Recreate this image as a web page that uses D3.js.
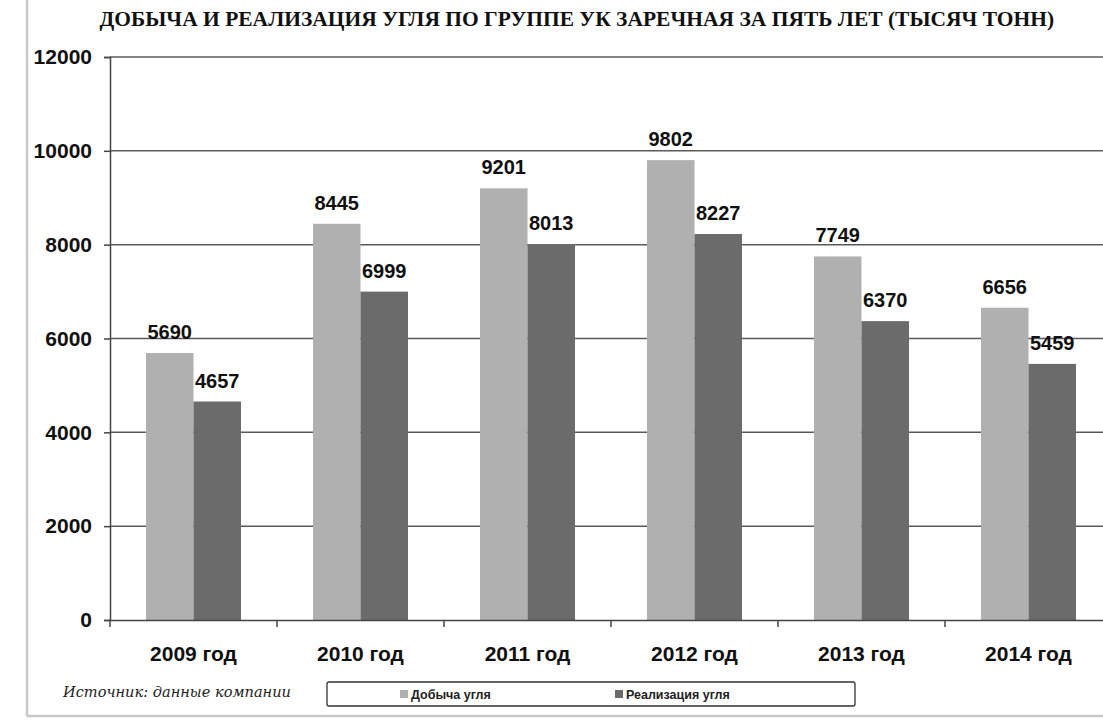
<!DOCTYPE html>
<html>
<head>
<meta charset="utf-8">
<script src="https://cdn.jsdelivr.net/npm/d3@7"></script>
<style>
  body { margin: 0; background: #fff; }
  svg { display: block; }
</style>
</head>
<body>
<div id="chart"></div>
<script>
const years = ["2009 год", "2010 год", "2011 год", "2012 год", "2013 год", "2014 год"];
const mining = [5690, 8445, 9201, 9802, 7749, 6656];
const sales = [4657, 6999, 8013, 8227, 6370, 5459];
const seriesNames = ["Добыча угля", "Реализация угля"];
const seriesColors = ["#b0b0b0", "#6b6b6b"];
const yTicks = [0, 2000, 4000, 6000, 8000, 10000, 12000];

const width = 1103, height = 724;
const margin = {left: 110, top: 57, bottom: 104};
const bandW = 167;
const sans = "Liberation Sans, Arial, sans-serif";

const svg = d3.select("#chart").append("svg")
    .attr("width", width)
    .attr("height", height);

// page frame
svg.append("line").attr("x1", 27).attr("x2", 27).attr("y1", 0).attr("y2", 716)
    .attr("stroke", "#c8c8c8").attr("stroke-width", 2.5);
svg.append("line").attr("x1", 27).attr("x2", width).attr("y1", 716).attr("y2", 716)
    .attr("stroke", "#c8c8c8").attr("stroke-width", 2.5);

// title: condensed bold serif, squeezed horizontally to fit
const titleWidth = 955;
const titleG = svg.append("g");
const title = titleG.append("text")
    .attr("x", 0).attr("y", 0)
    .attr("font-family", "Liberation Serif, serif")
    .attr("font-weight", "bold")
    .attr("font-size", 22)
    .attr("fill", "#111")
    .text("ДОБЫЧА И РЕАЛИЗАЦИЯ УГЛЯ ПО ГРУППЕ УК ЗАРЕЧНАЯ ЗА ПЯТЬ ЛЕТ (ТЫСЯЧ ТОНН)");
const natural = title.node().getComputedTextLength();
titleG.attr("transform", `translate(${577 - titleWidth / 2},26) scale(${titleWidth / natural},1)`);

const x = d3.scaleBand().domain(years)
    .range([margin.left, margin.left + bandW * years.length]);
const y = d3.scaleLinear().domain([0, 12000]).range([height - margin.bottom, margin.top]);

// gridlines
svg.append("g").selectAll("line").data(yTicks.slice(1)).join("line")
    .attr("x1", margin.left).attr("x2", width)
    .attr("y1", d => y(d)).attr("y2", d => y(d))
    .attr("stroke", "#5a5a5a").attr("stroke-width", 1.5);

const inner = d3.scaleBand().domain([0, 1]).range([0, 95]);
const data = years.map((yr, i) => ({yr, vals: [mining[i], sales[i]]}));

const groups = svg.append("g").selectAll("g").data(data).join("g")
    .attr("transform", d => `translate(${x(d.yr) + (bandW - 95) / 2},0)`);

groups.selectAll("rect").data(d => d.vals).join("rect")
    .attr("x", (v, j) => inner(j))
    .attr("width", inner.bandwidth())
    .attr("y", v => y(v))
    .attr("height", v => y(0) - y(v))
    .attr("fill", (v, j) => seriesColors[j]);

groups.selectAll("text").data(d => d.vals).join("text")
    .attr("x", (v, j) => inner(j) + inner.bandwidth() / 2)
    .attr("y", v => y(v) - 14)
    .attr("text-anchor", "middle")
    .attr("font-family", sans)
    .attr("font-weight", "bold")
    .attr("font-size", 20)
    .attr("fill", "#111")
    .text(v => v);

// y axis
const yAxis = svg.append("g")
    .attr("transform", `translate(${margin.left},0)`)
    .call(d3.axisLeft(y).tickValues(yTicks).tickSize(6).tickPadding(12).tickFormat(d3.format("d")));
yAxis.select(".domain").attr("stroke", "#444").attr("stroke-width", 1.5);
yAxis.selectAll(".tick line").attr("stroke", "#444").attr("stroke-width", 1.5);
yAxis.selectAll("text")
    .attr("font-family", sans)
    .attr("font-weight", "bold")
    .attr("font-size", 21)
    .attr("fill", "#111");

// x axis
const xAxis = svg.append("g")
    .attr("transform", `translate(0,${y(0)})`)
    .call(d3.axisBottom(x).tickSize(0).tickPadding(26));
xAxis.select(".domain").attr("stroke", "#444").attr("stroke-width", 1.5);
xAxis.selectAll("text")
    .attr("font-family", sans)
    .attr("font-weight", "bold")
    .attr("font-size", 21)
    .attr("fill", "#111");
svg.append("g").selectAll("line").data(d3.range(years.length + 1)).join("line")
    .attr("x1", i => margin.left + i * bandW).attr("x2", i => margin.left + i * bandW)
    .attr("y1", y(0)).attr("y2", y(0) + 7)
    .attr("stroke", "#444").attr("stroke-width", 1.5);

// source
svg.append("text")
    .attr("x", 63).attr("y", 697)
    .attr("font-family", "DejaVu Serif, serif")
    .attr("font-style", "italic")
    .attr("font-size", 15)
    .attr("textLength", 228)
    .attr("lengthAdjust", "spacingAndGlyphs")
    .attr("fill", "#222")
    .text("Источник: данные компании");

// legend
const legend = svg.append("g");
legend.append("rect")
    .attr("x", 327).attr("y", 682).attr("width", 528).attr("height", 24).attr("rx", 2)
    .attr("fill", "#fff").attr("stroke", "#333").attr("stroke-width", 1.3);
const legendX = [400, 615];
const items = legend.selectAll("g").data(seriesNames).join("g")
    .attr("transform", (d, i) => `translate(${legendX[i]},694)`);
items.append("rect").attr("x", 0).attr("y", -4).attr("width", 8).attr("height", 8)
    .attr("fill", (d, i) => seriesColors[i]);
items.append("text").attr("x", 11).attr("y", 5)
    .attr("font-family", sans)
    .attr("font-weight", "bold")
    .attr("font-size", 12.5)
    .attr("fill", "#222")
    .text(d => d);
</script>
</body>
</html>
